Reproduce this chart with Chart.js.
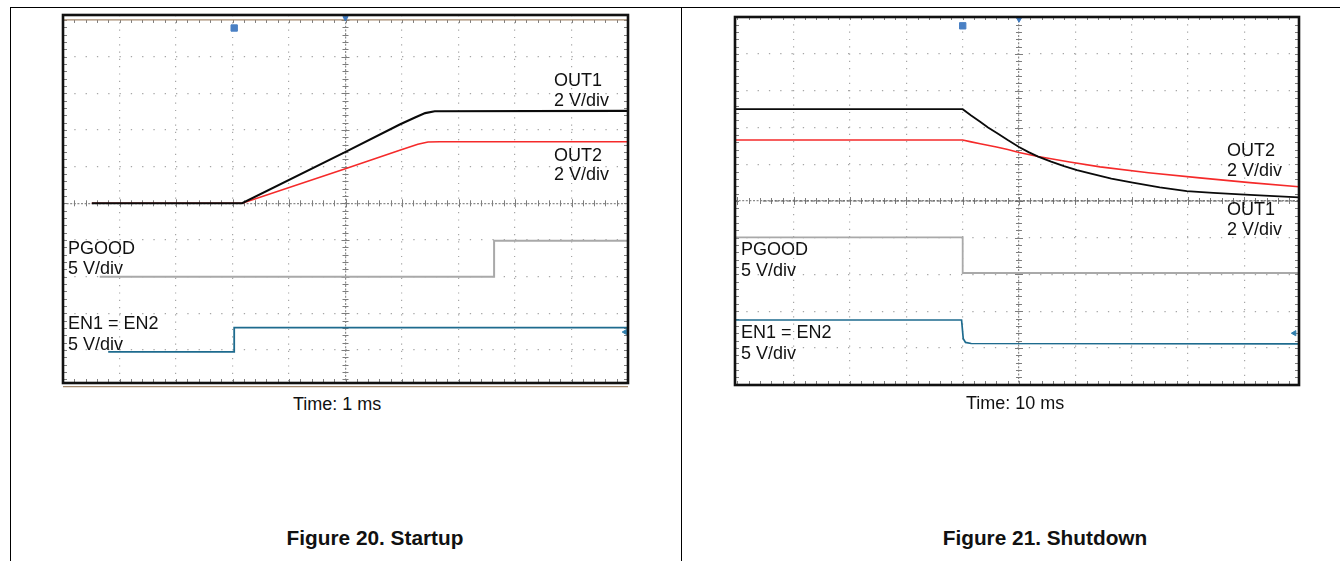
<!DOCTYPE html>
<html>
<head>
<meta charset="utf-8">
<title>Figure 20 / Figure 21</title>
<script src="https://cdn.jsdelivr.net/npm/chart.js@4.4.1/dist/chart.umd.min.js"></script>
<style>
  body { margin: 0; background: #fff; width: 1340px; height: 561px; position: relative; overflow: hidden;
         font-family: "Liberation Sans", Arial, sans-serif; }
  canvas { position: absolute; }
  .rule { position: absolute; background: #000; }
  .lbl { position: absolute; font-size: 18px; line-height: 1; white-space: nowrap; color: #111; }
  .cap { position: absolute; font-size: 20.8px; line-height: 1; font-weight: bold; text-align: center; width: 260px; color: #111; }
</style>
</head>
<body>
<div class="rule" style="left:10px;top:7px;width:1330px;height:1px"></div>
<div class="rule" style="left:10px;top:7px;width:1px;height:554px"></div>
<div class="rule" style="left:681px;top:7px;width:1px;height:554px"></div>

<canvas id="startup" width="585" height="388" style="left:53px;top:5px"></canvas>
<canvas id="shutdown" width="584" height="388" style="left:725px;top:7px"></canvas>

<div class="lbl" style="left:554px;top:70.5px">OUT1</div>
<div class="lbl" style="left:554px;top:91px">2 V/div</div>
<div class="lbl" style="left:554px;top:146px">OUT2</div>
<div class="lbl" style="left:554px;top:164.5px">2 V/div</div>
<div class="lbl" style="left:68px;top:238.5px">PGOOD</div>
<div class="lbl" style="left:68px;top:258.5px">5 V/div</div>
<div class="lbl" style="left:68px;top:313.5px">EN1 = EN2</div>
<div class="lbl" style="left:68px;top:334.5px">5 V/div</div>
<div class="lbl" style="left:293px;top:395px">Time: 1 ms</div>
<div class="cap" style="left:245px;top:528px">Figure 20. Startup</div>

<div class="lbl" style="left:1227px;top:140.5px">OUT2</div>
<div class="lbl" style="left:1227px;top:161px">2 V/div</div>
<div class="lbl" style="left:1227px;top:199.5px">OUT1</div>
<div class="lbl" style="left:1227px;top:219.5px">2 V/div</div>
<div class="lbl" style="left:741px;top:239.5px">PGOOD</div>
<div class="lbl" style="left:741px;top:260.5px">5 V/div</div>
<div class="lbl" style="left:741px;top:322.5px">EN1 = EN2</div>
<div class="lbl" style="left:741px;top:343.5px">5 V/div</div>
<div class="lbl" style="left:966px;top:394px">Time: 10 ms</div>
<div class="cap" style="left:915px;top:528px">Figure 21. Shutdown</div>

<script>
// all values in scope divisions (x: time div from centre, y: div from centre line)
const gridDivs = [-4, -3, -2, -1, 0, 1, 2, 3, 4];

// Figure 20, startup
const upOut1X = [-4.49, -1.83, 0.01, 0.96, 1.23, 1.41, 1.58, 5];
const upOut1Y = [0, 0, 1.41, 2.15, 2.34, 2.46, 2.51, 2.52];
const upOut2X = [-4.49, -1.83, 0.01, 0.96, 1.28, 1.46, 1.67, 5];
const upOut2Y = [0, 0, 0.95, 1.45, 1.61, 1.67, 1.68, 1.68];
const upPgoodX = [-4.35, 2.63, 2.63, 5];
const upPgoodY = [-2.0, -2.0, -1.02, -1.02];
const upEnX = [-4.2, -1.97, -1.97, 5];
const upEnY = [-4.05, -4.05, -3.39, -3.39];
const upTrigX = [-1.97], upTrigY = [4.78];
const upTopMarkX = [0], upTopMarkY = [5.05];
const upSideMarkX = [4.95], upSideMarkY = [-3.51];

// Figure 21, shutdown
const dnOut1X = [-5.04, -1.0, -0.85, -0.69, -0.55, -0.40, -0.2, 0, 0.17, 0.34, 0.57, 0.80, 1.03, 1.26, 1.64, 2.02, 2.5, 2.98, 3.45, 3.93, 4.97];
const dnOut1Y = [2.50, 2.50, 2.33, 2.16, 2.0, 1.86, 1.66, 1.47, 1.33, 1.21, 1.07, 0.95, 0.84, 0.75, 0.61, 0.50, 0.37, 0.27, 0.22, 0.18, 0.10];
const dnOut2X = [-5.04, -1.0, -0.85, -0.69, -0.40, -0.2, 0, 0.34, 0.9, 1.44, 2.3, 3.21, 4.1, 4.97];
const dnOut2Y = [1.66, 1.66, 1.61, 1.56, 1.47, 1.40, 1.32, 1.21, 1.06, 0.93, 0.77, 0.63, 0.50, 0.39];
const dnRefX = [-4.55, 4.97];
const dnRefY = [0, 0];
const dnPgoodX = [-5.04, -1.0, -1.0, 4.97];
const dnPgoodY = [-0.99, -0.99, -1.96, -1.96];
const dnEnX = [-5.04, -1.02, -0.99, -0.95, -0.85, 4.97];
const dnEnY = [-3.24, -3.24, -3.75, -3.85, -3.88, -3.89];
const dnTrigX = [-1.0], dnTrigY = [4.77];
const dnTopMarkX = [0], dnTopMarkY = [4.95];
const dnSideMarkX = [4.89], dnSideMarkY = [-3.6];

function pts(xs, ys) {
  return xs.map((x, i) => ({ x: x, y: ys[i] }));
}

function trace(xs, ys, color, width, extra) {
  return Object.assign({
    data: pts(xs, ys),
    borderColor: color,
    borderWidth: width,
    pointRadius: 0,
    tension: 0,
    fill: false
  }, extra || {});
}

function marker(xs, ys, color, style, r, rot) {
  return {
    data: pts(xs, ys),
    showLine: false,
    pointStyle: style,
    pointRadius: r,
    pointRotation: rot,
    backgroundColor: color,
    borderColor: color,
    borderWidth: 1
  };
}

// ticks on centre axes and frame edges, brown limit lines, frame
const scopeDeco = {
  id: "scopeDeco",
  beforeDatasetsDraw(chart, args, opts) {
    const ctx = chart.ctx;
    const a = chart.chartArea;
    const x = chart.scales.x, y = chart.scales.y;
    const cx = x.getPixelForValue(0), cy = y.getPixelForValue(0);
    const topY = opts.topLine != null ? y.getPixelForValue(opts.topLine) : a.top;
    ctx.save();
    ctx.strokeStyle = "#7d7d7d";
    ctx.lineWidth = 1;
    ctx.beginPath();
    for (let k = Math.ceil(x.min * 5); k <= Math.floor(x.max * 5); k++) {
      const px = Math.round(x.getPixelForValue(k / 5)) + 0.5;
      const len = k % 5 === 0 ? 4 : 3;
      ctx.moveTo(px, cy - len); ctx.lineTo(px, cy + len);
      ctx.moveTo(px, topY); ctx.lineTo(px, topY + 3);
      ctx.moveTo(px, a.bottom); ctx.lineTo(px, a.bottom - 4);
    }
    for (let k = Math.ceil(y.min * 5); k <= Math.floor(y.max * 5); k++) {
      const py = Math.round(y.getPixelForValue(k / 5)) + 0.5;
      const len = k % 5 === 0 ? 4 : 3;
      ctx.moveTo(cx - len, py); ctx.lineTo(cx + len, py);
      ctx.moveTo(a.left, py); ctx.lineTo(a.left + 4, py);
      ctx.moveTo(a.right, py); ctx.lineTo(a.right - 4, py);
    }
    ctx.stroke();
    if (opts.limits) {
      ctx.strokeStyle = "#a4886c";
      ctx.lineWidth = 1.2;
      ctx.beginPath();
      opts.limits.forEach(v => {
        const py = y.getPixelForValue(v);
        ctx.moveTo(a.left, py); ctx.lineTo(a.right, py);
      });
      ctx.stroke();
    }
    ctx.restore();
  },
  afterDatasetsDraw(chart) {
    const ctx = chart.ctx;
    const a = chart.chartArea;
    ctx.save();
    ctx.strokeStyle = "#111";
    ctx.lineWidth = 2.6;
    ctx.strokeRect(a.left, a.top, a.right - a.left, a.bottom - a.top);
    ctx.restore();
  }
};

function scopeOptions(xMin, xMax, yMin, yMax, deco) {
  const setTicks = s => { s.ticks = gridDivs.map(v => ({ value: v })); };
  return {
    responsive: false,
    animation: false,
    parsing: false,
    layout: { padding: 10 },
    plugins: { legend: { display: false }, tooltip: { enabled: false }, scopeDeco: deco },
    scales: {
      x: {
        type: "linear", min: xMin, max: xMax,
        afterBuildTicks: setTicks,
        ticks: { display: false },
        grid: { drawTicks: false, lineWidth: 1.2, color: c => c.tick && c.tick.value === 0 ? "#8c8c8c" : "#a6a6a6" },
        border: { display: false, dash: c => c.tick && c.tick.value === 0 ? [2, 1.6] : [1.2, 6.1] }
      },
      y: {
        type: "linear", min: yMin, max: yMax,
        afterBuildTicks: setTicks,
        ticks: { display: false },
        grid: { drawTicks: false, lineWidth: 1.2, color: c => c.tick && c.tick.value === 0 ? "#8c8c8c" : "#a6a6a6" },
        border: { display: false, dash: c => c.tick && c.tick.value === 0 ? [2, 1.6] : [1.3, 10] }
      }
    }
  };
}

new Chart(document.getElementById("startup"), {
  type: "line",
  data: {
    datasets: [
      marker(upTrigX, upTrigY, "#4a80c4", "rect", 4.5, 0),
      marker(upTopMarkX, upTopMarkY, "#3d78bd", "triangle", 3, 180),
      marker(upSideMarkX, upSideMarkY, "#2f7fae", "triangle", 3, 270),
      trace(upOut1X, upOut1Y, "#0a0a0a", 2.1),
      trace(upOut2X, upOut2Y, "#f52a2a", 1.6),
      trace(upPgoodX, upPgoodY, "#a9a9a9", 2),
      trace(upEnX, upEnY, "#1e6b8e", 1.8)
    ]
  },
  options: scopeOptions(-5, 5, -4.9, 5.135, { topLine: 5, limits: [5, -5] }),
  plugins: [scopeDeco]
});

new Chart(document.getElementById("shutdown"), {
  type: "line",
  data: {
    datasets: [
      marker(dnTrigX, dnTrigY, "#4a80c4", "rect", 4.5, 0),
      marker(dnTopMarkX, dnTopMarkY, "#3d78bd", "triangle", 3, 180),
      marker(dnSideMarkX, dnSideMarkY, "#2f7fae", "triangle", 3, 270),
      trace(dnOut1X, dnOut1Y, "#0a0a0a", 1.8),
      trace(dnOut2X, dnOut2Y, "#f52a2a", 1.6),
      trace(dnRefX, dnRefY, "#5a5a5a", 1, { borderDash: [4, 2] }),
      trace(dnPgoodX, dnPgoodY, "#a9a9a9", 1.8),
      trace(dnEnX, dnEnY, "#1e6b8e", 1.7)
    ]
  },
  options: scopeOptions(-5.044, 4.973, -5.01, 5.01, {}),
  plugins: [scopeDeco]
});
</script>
</body>
</html>
